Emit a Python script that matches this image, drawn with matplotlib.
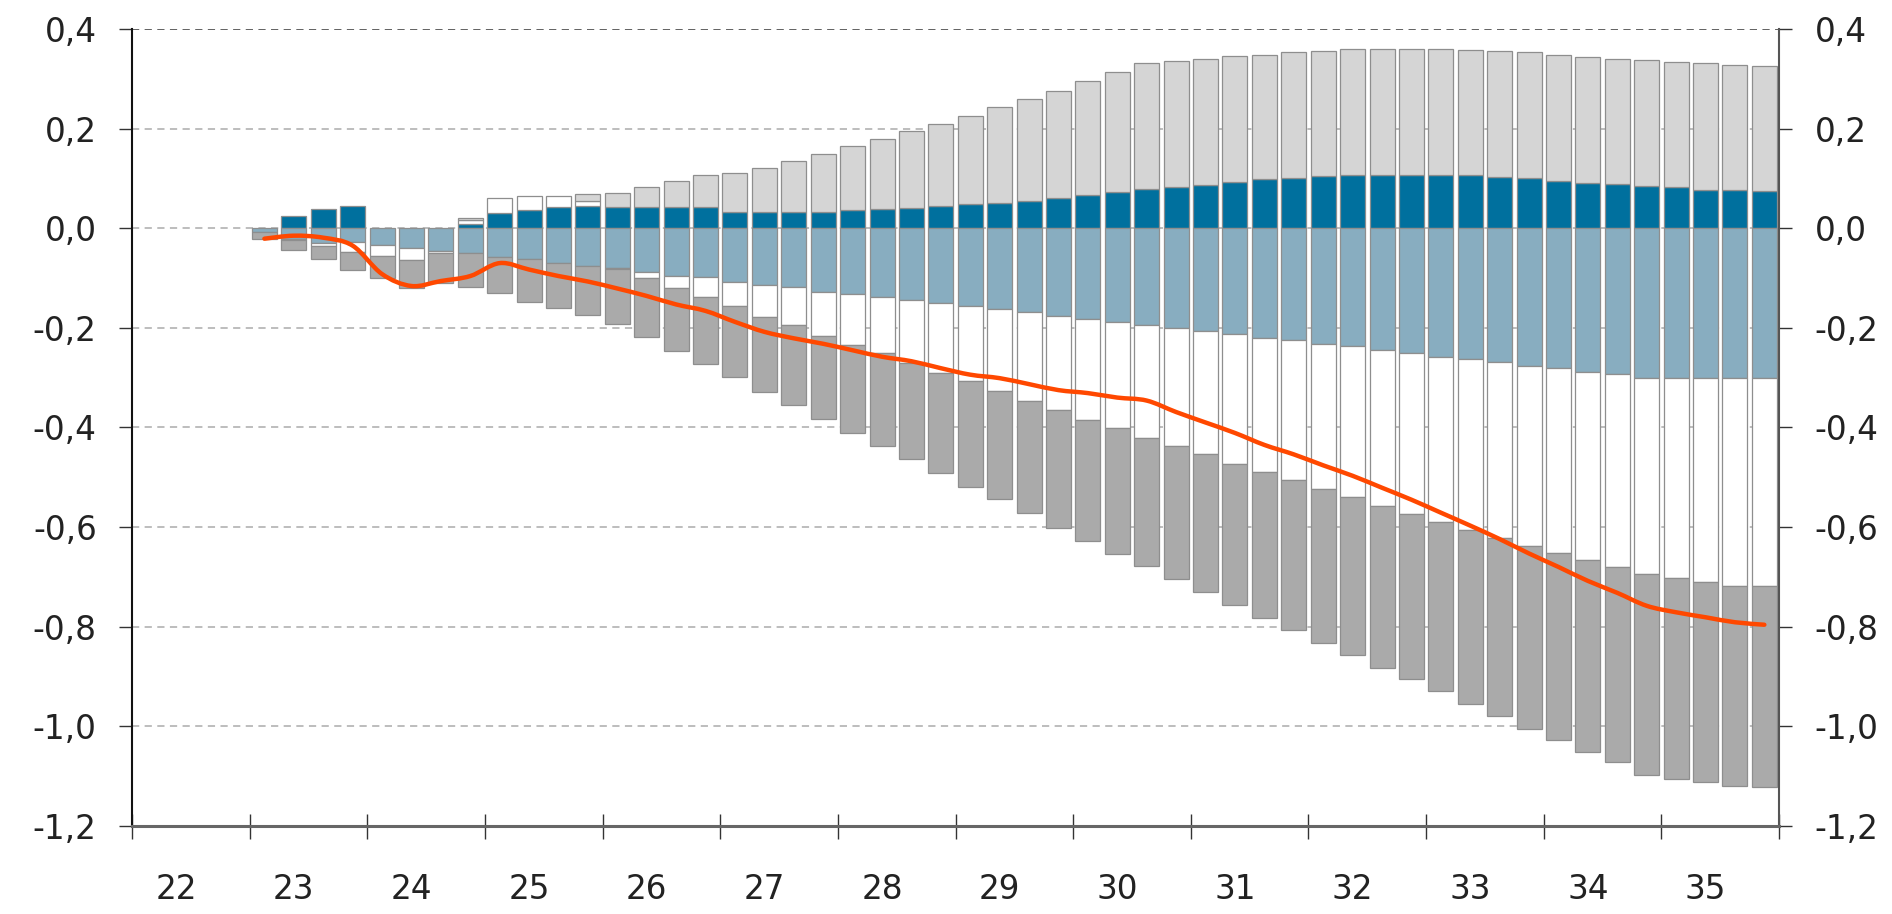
import numpy as np
import matplotlib
matplotlib.use("Agg")
import matplotlib.pyplot as plt
from matplotlib.path import Path
from matplotlib.patches import PathPatch
from matplotlib.ticker import FixedLocator, FuncFormatter

# ---------------- data (quarterly, 2023Q1 .. 2035Q4) ----------------
year_labels = ["22", "23", "24", "25", "26", "27", "28", "29", "30", "31", "32", "33", "34", "35"]
first_bar_quarter = 4          # bars start in 2023Q1 (axis starts 2022Q1)

dark_blue = [0.000, 0.025, 0.039, 0.044,  0.000, 0.000, 0.000, 0.008,
             0.031, 0.036, 0.043, 0.044,  0.043, 0.043, 0.043, 0.043,
             0.033, 0.033, 0.032, 0.033,  0.037, 0.039, 0.040, 0.045,
             0.048, 0.051, 0.055, 0.060,  0.066, 0.073, 0.078, 0.082,
             0.087, 0.092, 0.098, 0.101,  0.104, 0.106, 0.106, 0.106,
             0.106, 0.106, 0.103, 0.101,  0.094, 0.091, 0.089, 0.084,
             0.082, 0.077, 0.076, 0.074]

white = [0.000, -0.002, -0.007, -0.020,  -0.022, -0.025, -0.005, 0.008,
         0.030, 0.028, 0.021, 0.010,  -0.002, -0.013, -0.025, -0.040,
         -0.049, -0.065, -0.077, -0.088,  -0.103, -0.113, -0.126, -0.139,
         -0.151, -0.164, -0.178, -0.187,  -0.203, -0.213, -0.226, -0.237,
         -0.247, -0.260, -0.269, -0.281,  -0.291, -0.302, -0.312, -0.323,
         -0.331, -0.342, -0.352, -0.360,  -0.371, -0.377, -0.388, -0.394,
         -0.402, -0.410, -0.418, -0.418]

light_grey = [0.000, 0.000, 0.000, 0.000,  0.000, 0.000, 0.000, 0.005,
              0.000, 0.000, 0.000, 0.015,  0.028, 0.040, 0.051, 0.063,
              0.078, 0.088, 0.102, 0.117,  0.129, 0.140, 0.156, 0.165,
              0.178, 0.192, 0.204, 0.216,  0.230, 0.240, 0.254, 0.254,
              0.253, 0.253, 0.250, 0.252,  0.252, 0.254, 0.254, 0.254,
              0.254, 0.252, 0.253, 0.252,  0.254, 0.252, 0.251, 0.253,
              0.251, 0.254, 0.252, 0.251]

steel_blue = [-0.008, -0.022, -0.029, -0.027,  -0.033, -0.039, -0.045, -0.050,
              -0.057, -0.061, -0.070, -0.075,  -0.080, -0.087, -0.095, -0.098,
              -0.108, -0.113, -0.118, -0.128,  -0.132, -0.138, -0.144, -0.151,
              -0.156, -0.163, -0.169, -0.177,  -0.182, -0.189, -0.195, -0.200,
              -0.207, -0.213, -0.220, -0.225,  -0.232, -0.237, -0.245, -0.250,
              -0.258, -0.263, -0.269, -0.277,  -0.281, -0.289, -0.293, -0.300,
              -0.300, -0.300, -0.300, -0.300]

dark_grey = [-0.013, -0.019, -0.025, -0.036,  -0.045, -0.056, -0.060, -0.068,
             -0.074, -0.087, -0.090, -0.100,  -0.110, -0.119, -0.127, -0.134,
             -0.142, -0.151, -0.160, -0.166,  -0.176, -0.186, -0.193, -0.201,
             -0.213, -0.217, -0.225, -0.237,  -0.242, -0.251, -0.257, -0.268,
             -0.276, -0.283, -0.294, -0.301,  -0.309, -0.318, -0.325, -0.332,
             -0.341, -0.350, -0.358, -0.368,  -0.375, -0.386, -0.391, -0.403,
             -0.403, -0.402, -0.402, -0.404]

total_line = [-0.021, -0.015, -0.019, -0.035,  -0.092, -0.116, -0.106, -0.096,
              -0.070, -0.083, -0.096, -0.107,  -0.121, -0.136, -0.153, -0.166,
              -0.188, -0.208, -0.221, -0.232,  -0.245, -0.258, -0.267, -0.281,
              -0.294, -0.301, -0.313, -0.325,  -0.331, -0.340, -0.346, -0.369,
              -0.390, -0.411, -0.435, -0.454,  -0.476, -0.497, -0.521, -0.545,
              -0.571, -0.597, -0.624, -0.653,  -0.680, -0.708, -0.732, -0.758,
              -0.771, -0.781, -0.791, -0.796]

y_ticks = [-1.2, -1.0, -0.8, -0.6, -0.4, -0.2, 0.0, 0.2, 0.4]

# ---------------- style ----------------
C_DBLUE = "#00709E"
C_STEEL = "#88ADC0"
C_WHITE = "#FFFFFF"
C_LGREY = "#D5D5D5"
C_DGREY = "#AAAAAA"
C_LINE = "#FF4800"
C_EDGE = "#8E8E8E"
FS = 23.5

plt.rcParams["font.family"] = ["DejaVu Sans"]

fig = plt.figure(figsize=(18.92, 9.14), dpi=100)
ax = fig.add_axes([0.0698, 0.0963, 0.8705, 0.872])

n_years = len(year_labels)
x = np.arange(len(dark_blue)) + first_bar_quarter + 0.5

a = np.array(dark_blue)
w = np.array(white)
wpos = np.clip(w, 0, None)
wneg = np.clip(w, None, 0)
lg = np.array(light_grey)
sb = np.array(steel_blue)
dg = np.array(dark_grey)


def seg(vals, bottom, color):
    vals = np.asarray(vals, dtype=float)
    bottom = np.broadcast_to(np.asarray(bottom, dtype=float), vals.shape)
    m = vals != 0
    ax.bar(x[m], vals[m], width=0.85, bottom=bottom[m], color=color,
           edgecolor=C_EDGE, linewidth=0.9, zorder=3)


seg(a, 0.0, C_DBLUE)
seg(wpos, a, C_WHITE)
seg(lg, a + wpos, C_LGREY)
seg(sb, 0.0, C_STEEL)
seg(wneg, sb, C_WHITE)
seg(dg, sb + wneg, C_DGREY)

# smoothed total line (Catmull-Rom -> cubic Bezier, drawn in data coordinates)
px = x
py = np.array(total_line)
verts = [(px[0], py[0])]
codes = [Path.MOVETO]
n = len(px)
for i in range(n - 1):
    p0 = np.array([px[max(i - 1, 0)], py[max(i - 1, 0)]])
    p1 = np.array([px[i], py[i]])
    p2 = np.array([px[i + 1], py[i + 1]])
    p3 = np.array([px[min(i + 2, n - 1)], py[min(i + 2, n - 1)]])
    c1 = p1 + (p2 - p0) / 6.0
    c2 = p2 - (p3 - p1) / 6.0
    verts += [tuple(c1), tuple(c2), tuple(p2)]
    codes += [Path.CURVE4] * 3
ax.add_patch(PathPatch(Path(verts, codes), facecolor="none", edgecolor=C_LINE,
                       linewidth=3.2, capstyle="round", joinstyle="round", zorder=5))

# ---------------- axes ----------------
ax.set_xlim(0, 4 * n_years)
ax.set_ylim(-1.2, 0.4)

ax.set_yticks(y_ticks)
ax.yaxis.set_major_formatter(FuncFormatter(lambda v, p: f"{v:.1f}".replace(".", ",").replace("\u2212", "-")))
ax.yaxis.set_ticks_position("both")
ax.tick_params(axis="y", which="major", direction="out", length=9.5, width=1.0,
               color="#333333", labelsize=FS, pad=16, left=True, right=True,
               labelleft=True, labelright=True, labelcolor="#222222")

ax.xaxis.set_major_locator(FixedLocator(np.arange(0, 4 * n_years + 1, 4)))
ax.xaxis.set_minor_locator(FixedLocator(np.arange(n_years) * 4 + 1.5))
ax.xaxis.set_major_formatter(FuncFormatter(lambda v, p: ""))
ax.xaxis.set_minor_formatter(FuncFormatter(lambda v, p: year_labels[int(v // 4)]))
ax.tick_params(axis="x", which="major", direction="inout", length=18, width=1.0, color="#333333")
ax.tick_params(axis="x", which="minor", length=0, pad=34, labelsize=FS, labelcolor="#222222")

for v in y_ticks:
    if v == 0.4:
        ax.axhline(v, color="#555555", lw=1.3, ls=(0, (4, 3)), zorder=1)
    else:
        ax.axhline(v, color="#B8B8B8", lw=1.3, ls=(0, (4, 3)), zorder=1)

ax.spines["top"].set_visible(False)
ax.spines["left"].set_color("#111111")
ax.spines["left"].set_linewidth(1.5)
ax.spines["right"].set_color("#555555")
ax.spines["right"].set_linewidth(1.5)
ax.spines["bottom"].set_color("#666666")
ax.spines["bottom"].set_linewidth(2.2)
for s in ax.spines.values():
    s.set_zorder(6)

fig.savefig("out.png", dpi=100, facecolor="white")
